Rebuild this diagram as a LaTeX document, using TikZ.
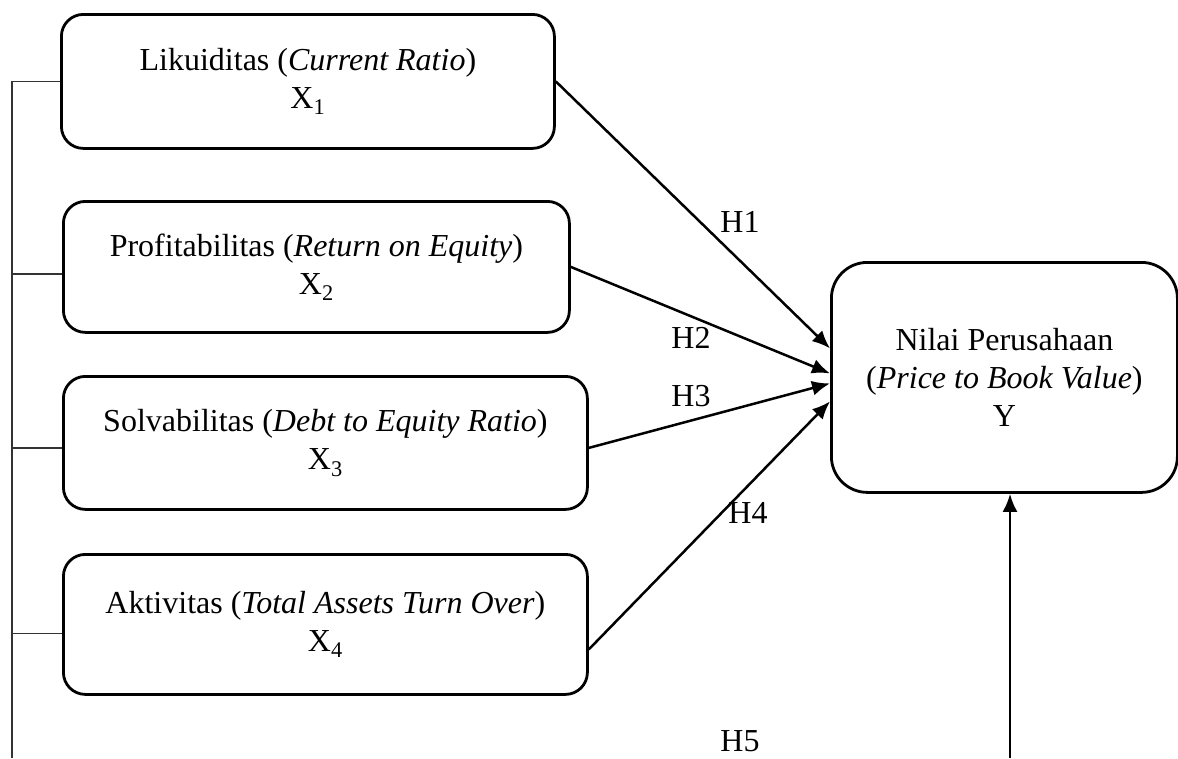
\documentclass[tikz,border=0pt]{standalone}
\usepackage{fontspec}
\setmainfont{Liberation Serif}
\usetikzlibrary{positioning,arrows.meta,calc}
\tikzstyle{var}=[rectangle, draw=black, rounded corners=22pt, line width=2.8pt, align=center, anchor=north west, inner sep=0pt, text=black, font=\fontsize{32}{38}\selectfont]
\tikzstyle{target}=[var, rounded corners=36pt]
\tikzstyle{hyp}=[inner sep=1pt, font=\fontsize{32}{38}\selectfont]
\tikzstyle{link}=[-{Latex[length=18pt,width=15pt]}, line width=2.5pt]
\tikzstyle{brace}=[line width=1.3pt, draw=black!80]

\begin{document}
\begin{tikzpicture}[x=1pt,y=-1pt]
        \useasboundingbox (0,0) rectangle (1178,758);

        \node(likuid)[var, minimum width=493pt, minimum height=134pt] at (60,13) {
            Likuiditas (\textit{Current Ratio})\\X\textsubscript{1}
        };
        \node(profit)[var, minimum width=506pt, minimum height=131pt] at (62,200) {
            Profitabilitas (\textit{Return on Equity})\\X\textsubscript{2}
        };
        \node(solva)[var, minimum width=524pt, minimum height=133pt] at (62,375) {
            Solvabilitas (\textit{Debt to Equity Ratio})\\X\textsubscript{3}
        };
        \node(aktiv)[var, minimum width=524pt, minimum height=140pt] at (62,553) {
            Aktivitas (\textit{Total Assets Turn Over})\\X\textsubscript{4}
        };

        \node(nilai)[target, minimum width=346pt, minimum height=230pt] at (830,261) {
            Nilai Perusahaan\\(\textit{Price to Book Value})\\Y
        };

        \draw[link] (likuid.east) -- ([yshift=29pt]nilai.west);
        \draw[link] (profit.east) -- ([yshift=4pt]nilai.west);
        \draw[link] ([yshift=-5pt]solva.east) -- ([yshift=-6pt]nilai.west);
        \draw[link] ([yshift=-25pt]aktiv.east) -- ([yshift=-24pt]nilai.west);

        \node(h1)[hyp] at (740,222) {H1};
        \node(h2)[hyp] at (691,338) {H2};
        \node(h3)[hyp] at (691,396) {H3};
        \node(h4)[hyp] at (748,513) {H4};
        \node(h5)[hyp] at (740,741) {H5};

        % left bracket
        \coordinate (kiri) at (12,758);
        \draw[brace] (kiri) |- (likuid.west);
        \draw[brace] ([yshift=-7pt]profit.west) -| (kiri);
        \draw[brace] ([yshift=-5pt]solva.west) -| (kiri);
        \draw[brace] ([yshift=-9pt]aktiv.west) -| (kiri);

        \coordinate (bawah) at (1010,758);
        \draw[link] (bawah) -- (bawah |- nilai.south);
    \end{tikzpicture}
\end{document}
